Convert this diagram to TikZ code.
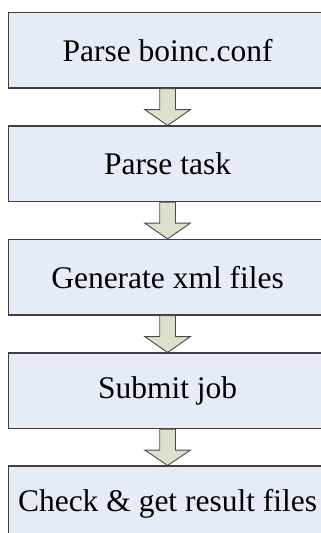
\documentclass[tikz,border=0pt]{standalone}
\usepackage{fontspec}
\setmainfont{Liberation Serif}
\usetikzlibrary{calc}
\definecolor{boxfill}{HTML}{E6ECF7}
\definecolor{boxline}{HTML}{404040}
\definecolor{arrfill}{HTML}{DDE1CB}
\definecolor{arrline}{HTML}{4A4A4A}
\tikzset{
  stepbox/.style={draw=boxline, fill=boxfill, line width=1.1pt,
    minimum width=318.2pt, minimum height=75.5pt, inner sep=0pt,
    font=\fontsize{31.5}{36}\selectfont, anchor=center},
  blockarrow/.style={draw=arrline, fill=arrfill, line width=0.9pt, line join=miter}
}
\newcommand{\blockarr}[2]{%
  \draw[blockarrow] let \p1=(#1.south), \p2=(#2.north) in
    (\x1-7.85pt,\y1) -- (\x1-7.85pt,\y1-21pt) -- (\x1-22.85pt,\y1-21pt) -- (\p2)
    -- (\x1+22.85pt,\y1-21pt) -- (\x1+7.85pt,\y1-21pt) -- (\x1+7.85pt,\y1) -- cycle;}
\begin{document}
\begin{tikzpicture}[x=1pt,y=1pt]
\useasboundingbox (0,0) rectangle (321,-533);
\clip (0,0) rectangle (321,-533);
\node[stepbox] (b1) at (167.6,-50.25) {Parse boinc.conf};
\node[stepbox] (b2) at (167.6,-163.75) {Parse task};
\node[stepbox] (b3) at (167.6,-277.25) {Generate xml files};
\node[stepbox] (b4) at (167.6,-390.75) {Submit job};
\node[stepbox] (b5) at (167.6,-503.75) {Check \& get result files};
\blockarr{b1}{b2}
\blockarr{b2}{b3}
\blockarr{b3}{b4}
\blockarr{b4}{b5}
\end{tikzpicture}
\end{document}
